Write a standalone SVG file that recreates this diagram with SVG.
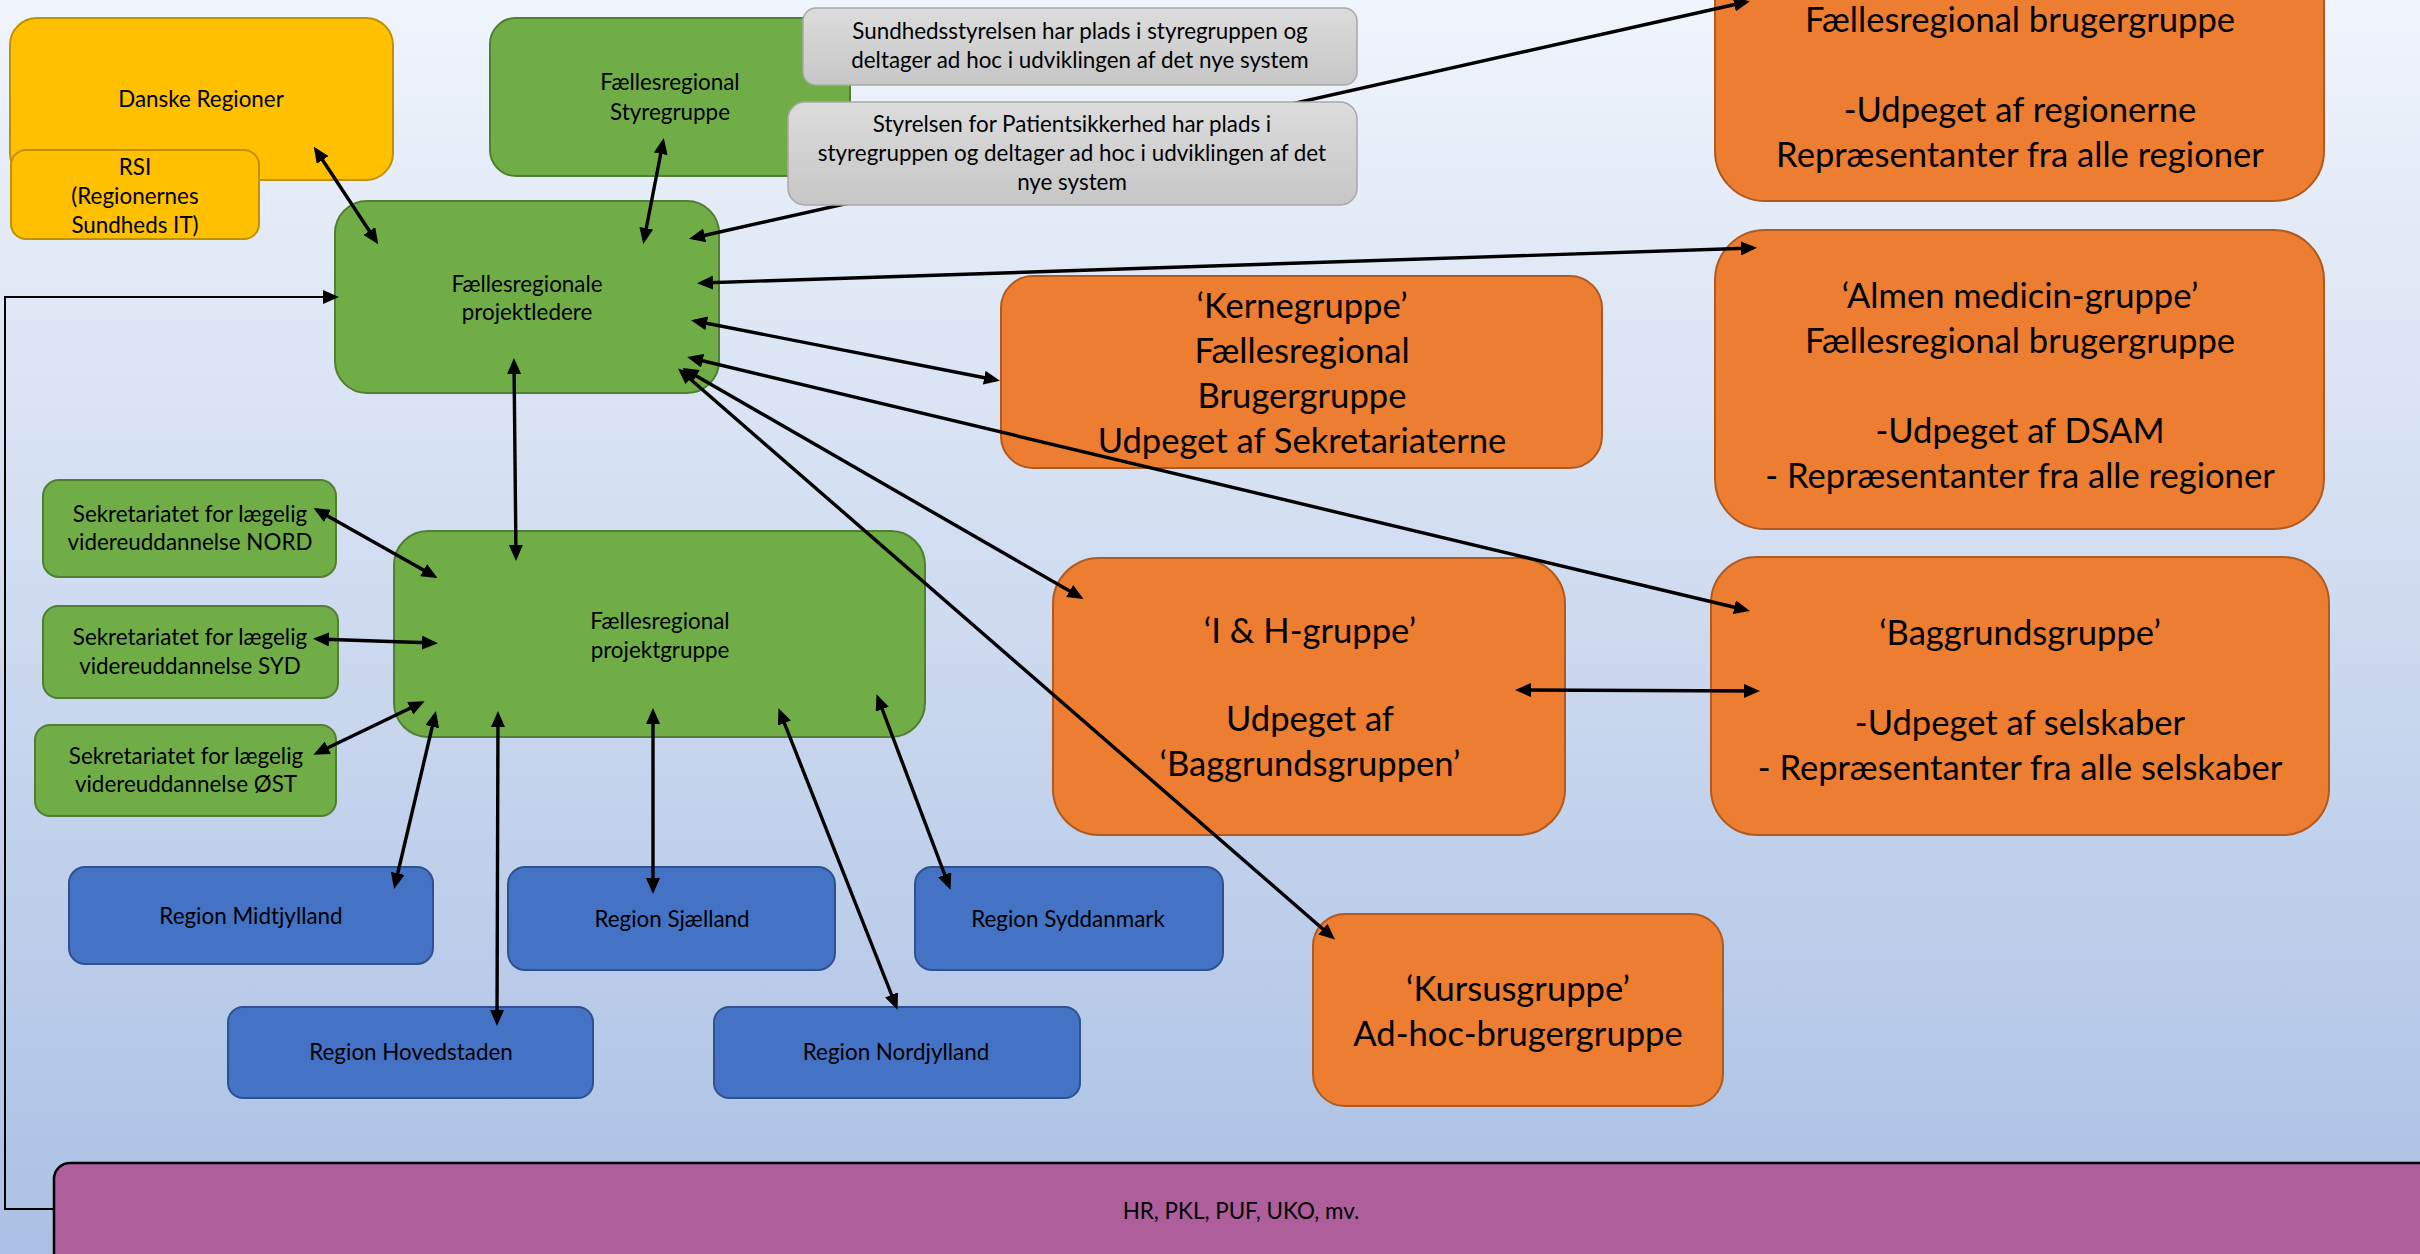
<svg xmlns="http://www.w3.org/2000/svg" width="2420" height="1254" viewBox="0 0 2420 1254">
<defs>
<linearGradient id="bg" x1="0" y1="0" x2="0" y2="1">
<stop offset="0" stop-color="#f0f4fb"/>
<stop offset="1" stop-color="#aac0e4"/>
</linearGradient>
<linearGradient id="gr" x1="0" y1="0" x2="0" y2="1">
<stop offset="0" stop-color="#dcdcdc"/>
<stop offset="1" stop-color="#c6c6c6"/>
</linearGradient>
<marker id="ah" viewBox="0 0 16 14" refX="12" refY="7" markerWidth="16" markerHeight="14" markerUnits="userSpaceOnUse" orient="auto-start-reverse">
<path d="M0,0 L16,7 L0,14 z" fill="#000"/>
</marker>
<style>
text{font-family:Lato,"Noto Sans","Liberation Sans",sans-serif;fill:#000;text-anchor:middle}
.s{font-size:22.4px}
.l{font-size:34.6px}
.yel{fill:#ffc000;stroke:#c09000;stroke-width:2}
.grn{fill:#70ad47;stroke:#507e32;stroke-width:2}
.gry{fill:url(#gr);stroke:#a8a8a8;stroke-width:1.5}
.blu{fill:#4472c4;stroke:#2f528f;stroke-width:2}
.org{fill:#ed7d31;stroke:#ae5a21;stroke-width:2}
.pur{fill:#ad5e9b;stroke:#000;stroke-width:2.5}
.c line,.c polyline{stroke:#000;stroke-width:3.4;fill:none;marker-end:url(#ah);marker-start:url(#ah)}
.c .fb{stroke-width:2;marker-start:none}
</style>
</defs>
<rect x="0" y="0" width="2420" height="1254" fill="url(#bg)"/>

<g id="danske-regioner"><rect class="yel" x="10" y="18" width="383" height="162" rx="27"/><text class="s" x="201" y="107">Danske Regioner</text></g>
<g id="rsi"><rect class="yel" x="11" y="150" width="248" height="89" rx="15"/><text class="s" x="135" y="175">RSI</text><text class="s" x="135" y="204">(Regionernes</text><text class="s" x="135" y="233">Sundheds IT)</text></g>
<g id="styregruppe"><rect class="grn" x="490" y="18" width="360" height="158" rx="26"/><text class="s" x="670" y="90">Fællesregional</text><text class="s" x="670" y="120">Styregruppe</text></g>
<g id="projektledere"><rect class="grn" x="335" y="201" width="384" height="192" rx="32"/><text class="s" x="527" y="292">Fællesregionale</text><text class="s" x="527" y="320">projektledere</text></g>
<g id="sekr-nord"><rect class="grn" x="43" y="480" width="293" height="97" rx="16"/><text class="s" x="190" y="522">Sekretariatet for lægelig</text><text class="s" x="190" y="550">videreuddannelse NORD</text></g>
<g id="sekr-syd"><rect class="grn" x="43" y="606" width="295" height="92" rx="15"/><text class="s" x="190" y="645">Sekretariatet for lægelig</text><text class="s" x="190" y="674">videreuddannelse SYD</text></g>
<g id="sekr-ost"><rect class="grn" x="35" y="725" width="301" height="91" rx="15"/><text class="s" x="186" y="764">Sekretariatet for lægelig</text><text class="s" x="186" y="792">videreuddannelse ØST</text></g>
<g id="projektgruppe"><rect class="grn" x="394" y="531" width="531" height="206" rx="34"/><text class="s" x="660" y="629">Fællesregional</text><text class="s" x="660" y="658">projektgruppe</text></g>
<g id="region-midtjylland"><rect class="blu" x="69" y="867" width="364" height="97" rx="16"/><text class="s" x="251" y="924">Region Midtjylland</text></g>
<g id="region-sjaelland"><rect class="blu" x="508" y="867" width="327" height="103" rx="17"/><text class="s" x="672" y="927">Region Sjælland</text></g>
<g id="region-syddanmark"><rect class="blu" x="915" y="867" width="308" height="103" rx="17"/><text class="s" x="1068" y="927">Region Syddanmark</text></g>
<g id="region-hovedstaden"><rect class="blu" x="228" y="1007" width="365" height="91" rx="15"/><text class="s" x="411" y="1060">Region Hovedstaden</text></g>
<g id="region-nordjylland"><rect class="blu" x="714" y="1007" width="366" height="91" rx="15"/><text class="s" x="896" y="1060">Region Nordjylland</text></g>
<g id="brugergruppe-regioner"><rect class="org" x="1715" y="-100" width="609" height="301" rx="50"/><text class="l" x="2020" y="32">Fællesregional brugergruppe</text><text class="l" x="2020" y="122">-Udpeget af regionerne</text><text class="l" x="2020" y="167">Repræsentanter fra alle regioner</text></g>
<g id="almen-medicin"><rect class="org" x="1715" y="230" width="609" height="299" rx="50"/><text class="l" x="2020" y="308">‘Almen medicin-gruppe’</text><text class="l" x="2020" y="353">Fællesregional brugergruppe</text><text class="l" x="2020" y="443">-Udpeget af DSAM</text><text class="l" x="2020" y="488">- Repræsentanter fra alle regioner</text></g>
<g id="kernegruppe"><rect class="org" x="1001" y="276" width="601" height="192" rx="32"/><text class="l" x="1302" y="318">‘Kernegruppe’</text><text class="l" x="1302" y="363">Fællesregional</text><text class="l" x="1302" y="408">Brugergruppe</text><text class="l" x="1302" y="453">Udpeget af Sekretariaterne</text></g>
<g id="ih-gruppe"><rect class="org" x="1053" y="558" width="512" height="277" rx="46"/><text class="l" x="1310" y="643">‘I &amp; H-gruppe’</text><text class="l" x="1310" y="731">Udpeget af</text><text class="l" x="1310" y="776">‘Baggrundsgruppen’</text></g>
<g id="baggrundsgruppe"><rect class="org" x="1711" y="557" width="618" height="278" rx="46"/><text class="l" x="2020" y="645">‘Baggrundsgruppe’</text><text class="l" x="2020" y="735">-Udpeget af selskaber</text><text class="l" x="2020" y="780">- Repræsentanter fra alle selskaber</text></g>
<g id="kursusgruppe"><rect class="org" x="1313" y="914" width="410" height="192" rx="32"/><text class="l" x="1518" y="1001">‘Kursusgruppe’</text><text class="l" x="1518" y="1046">Ad-hoc-brugergruppe</text></g>
<g id="hr-pkl"><rect class="pur" x="54" y="1163" width="2380" height="130" rx="16"/><text class="s" x="1241" y="1219">HR, PKL, PUF, UKO, mv.</text></g>

<g id="connectors" class="c">
<line x1="316" y1="150" x2="376" y2="241"/>
<line x1="663" y1="142" x2="644" y2="240"/>
<polyline class="fb" points="54,1209 5,1209 5,297 335,297"/>
<line x1="693" y1="238" x2="1746" y2="2"/>
<line x1="701" y1="283" x2="1753" y2="248"/>
<line x1="695" y1="321" x2="996" y2="380"/>
<line x1="691" y1="358" x2="1746" y2="610"/>
<line x1="686" y1="370" x2="1080" y2="597"/>
<line x1="681" y1="371" x2="1332" y2="937"/>
<line x1="514" y1="362" x2="516" y2="557"/>
<line x1="317" y1="510" x2="434" y2="576"/>
<line x1="317" y1="639" x2="434" y2="643"/>
<line x1="317" y1="753" x2="421" y2="703"/>
<line x1="435" y1="715" x2="395" y2="885"/>
<line x1="498" y1="715" x2="497" y2="1022"/>
<line x1="653" y1="712" x2="653" y2="890"/>
<line x1="780" y1="712" x2="896" y2="1006"/>
<line x1="878" y1="698" x2="949" y2="886"/>
<line x1="1519" y1="690" x2="1756" y2="691"/>
</g>

<g id="sundhedsstyrelsen"><rect class="gry" x="803" y="8" width="554" height="77" rx="13"/><text class="s" x="1080" y="39">Sundhedsstyrelsen har plads i styregruppen og</text><text class="s" x="1080" y="68">deltager ad hoc i udviklingen af det nye system</text></g>
<g id="patientsikkerhed"><rect class="gry" x="788" y="102" width="569" height="103" rx="17"/><text class="s" x="1072" y="132">Styrelsen for Patientsikkerhed har plads i</text><text class="s" x="1072" y="161">styregruppen og deltager ad hoc i udviklingen af det</text><text class="s" x="1072" y="190">nye system</text></g>
</svg>
